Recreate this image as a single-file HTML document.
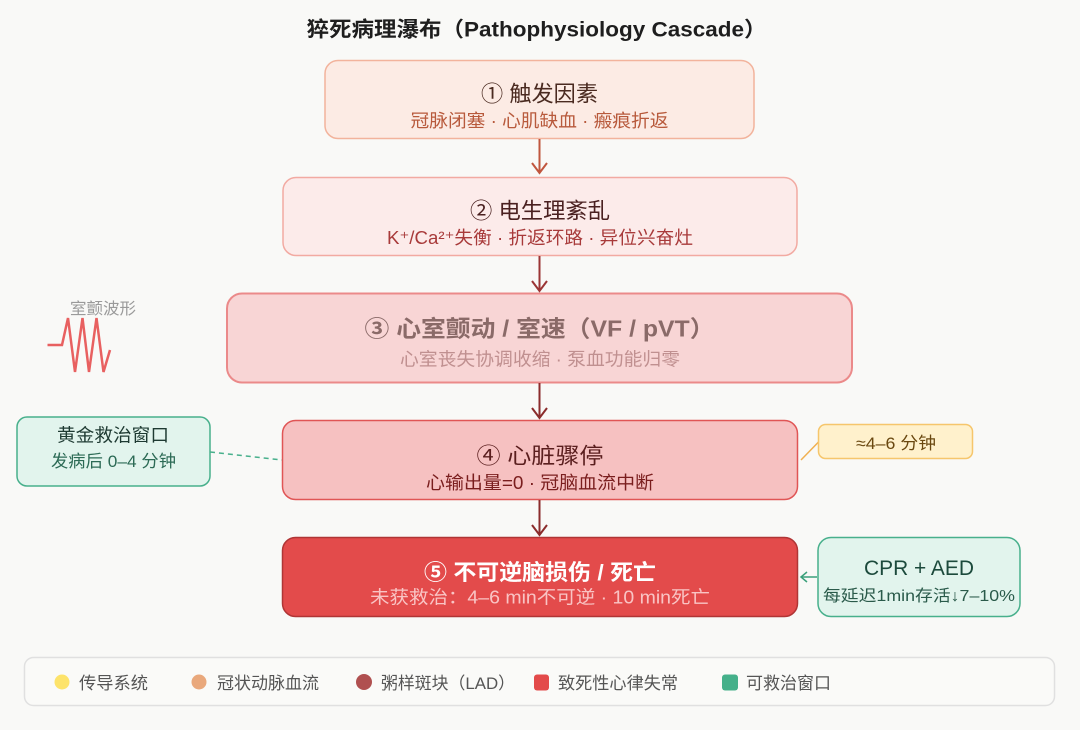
<!DOCTYPE html>
<html>
<head>
<meta charset="utf-8">
<style>
  html, body { margin: 0; padding: 0; background: #f9f9f7; }
  body { width: 1080px; height: 730px; overflow: hidden; }
  svg { display: block; }
  text { font-family: "Liberation Sans", "Noto Sans CJK SC", sans-serif; }
</style>
</head>
<body>
<svg width="1080" height="730" viewBox="0 0 1080 730" xmlns="http://www.w3.org/2000/svg">
  <rect x="0" y="0" width="1080" height="730" fill="#f9f9f7"/>

  <!-- Title -->
  <text x="536.5" y="36.5" text-anchor="middle" font-size="21" font-weight="bold" fill="#1e1e1e" textLength="460" lengthAdjust="spacingAndGlyphs">猝死病理瀑布（Pathophysiology Cascade）</text>

  <!-- Box 1 -->
  <rect x="325" y="60.5" width="429" height="78" rx="13" fill="#fcebe4" stroke="#f2b39c" stroke-width="1.5"/>
  <text x="539.5" y="101.5" text-anchor="middle" font-size="22" fill="#4a2a20" textLength="117" lengthAdjust="spacingAndGlyphs">① 触发因素</text>
  <text x="539.5" y="127" text-anchor="middle" font-size="18" fill="#b85a3c" textLength="258" lengthAdjust="spacingAndGlyphs">冠脉闭塞 · 心肌缺血 · 瘢痕折返</text>

  <!-- Arrow 1 -->
  <line x1="539.5" y1="139" x2="539.5" y2="173" stroke="#c0563e" stroke-width="2"/>
  <polyline points="532,163 539.5,173 547,163" fill="none" stroke="#c0563e" stroke-width="2"/>

  <!-- Box 2 -->
  <rect x="283" y="177.5" width="514" height="78" rx="13" fill="#fcebea" stroke="#f2aaa2" stroke-width="1.5"/>
  <text x="540" y="218.5" text-anchor="middle" font-size="22" fill="#4a2020" textLength="140" lengthAdjust="spacingAndGlyphs">② 电生理紊乱</text>
  <text x="540" y="244" text-anchor="middle" font-size="18" fill="#a83a3a" textLength="306" lengthAdjust="spacingAndGlyphs">K⁺/Ca²⁺失衡 · 折返环路 · 异位兴奋灶</text>

  <!-- Arrow 2 -->
  <line x1="539.5" y1="256" x2="539.5" y2="291" stroke="#9b3535" stroke-width="2"/>
  <polyline points="532,281 539.5,291 547,281" fill="none" stroke="#9b3535" stroke-width="2"/>

  <!-- Waveform -->
  <text x="103" y="314" text-anchor="middle" font-size="16" fill="#9a9a9a" textLength="66" lengthAdjust="spacingAndGlyphs">室颤波形</text>
  <polyline points="47.5,345 62,345 68,318 75,372 82.5,318 89,372 96.5,318 103.5,372 110,350" fill="none" stroke="#e86060" stroke-width="2.5" stroke-linejoin="miter"/>

  <!-- Box 3 -->
  <rect x="227" y="293.5" width="625" height="89" rx="15" fill="#f8d5d5" stroke="#eb8a8a" stroke-width="2"/>
  <text x="539.5" y="336.5" text-anchor="middle" font-size="23" font-weight="bold" fill="#8a6a68" textLength="350" lengthAdjust="spacingAndGlyphs">③ 心室颤动 / 室速（VF / pVT）</text>
  <text x="540" y="365.5" text-anchor="middle" font-size="18" fill="#c09090" textLength="280" lengthAdjust="spacingAndGlyphs">心室丧失协调收缩 · 泵血功能归零</text>

  <!-- Arrow 3 -->
  <line x1="539.5" y1="383" x2="539.5" y2="418" stroke="#8b2c2c" stroke-width="2"/>
  <polyline points="532,408 539.5,418 547,408" fill="none" stroke="#8b2c2c" stroke-width="2"/>

  <!-- Green left box -->
  <rect x="17" y="417" width="193" height="69" rx="10" fill="#e2f4ed" stroke="#48b08c" stroke-width="1.5"/>
  <text x="113" y="441.7" text-anchor="middle" font-size="18" fill="#1e3a32" textLength="112" lengthAdjust="spacingAndGlyphs">黄金救治窗口</text>
  <text x="113.5" y="466.8" text-anchor="middle" font-size="17" fill="#2c6a55" textLength="125" lengthAdjust="spacingAndGlyphs">发病后 0–4 分钟</text>
  <line x1="210" y1="452" x2="282" y2="460" stroke="#48b08c" stroke-width="1.5" stroke-dasharray="5,4"/>

  <!-- Box 4 -->
  <rect x="282.5" y="420.5" width="515" height="79" rx="13" fill="#f6c1c1" stroke="#e05555" stroke-width="1.5"/>
  <text x="540" y="463.5" text-anchor="middle" font-size="22" fill="#5a1e1e" textLength="127" lengthAdjust="spacingAndGlyphs">④ 心脏骤停</text>
  <text x="540" y="489" text-anchor="middle" font-size="18" fill="#7a1e1e" textLength="228" lengthAdjust="spacingAndGlyphs">心输出量=0 · 冠脑血流中断</text>

  <!-- Yellow box + connector -->
  <line x1="801" y1="460" x2="818.5" y2="442" stroke="#f0b050" stroke-width="1.5"/>
  <rect x="818.5" y="424.5" width="154" height="34" rx="7" fill="#fff1cc" stroke="#f6c66c" stroke-width="1.5"/>
  <text x="896" y="449" text-anchor="middle" font-size="17" fill="#6a4810" textLength="80" lengthAdjust="spacingAndGlyphs">≈4–6 分钟</text>

  <!-- Arrow 4 -->
  <line x1="539.5" y1="500" x2="539.5" y2="535" stroke="#8b2c2c" stroke-width="2"/>
  <polyline points="532,525 539.5,535 547,525" fill="none" stroke="#8b2c2c" stroke-width="2"/>

  <!-- Box 5 -->
  <rect x="282.5" y="537.5" width="515" height="79" rx="13" fill="#e34b4b" stroke="#b03535" stroke-width="1.5"/>
  <text x="540" y="580" text-anchor="middle" font-size="22" font-weight="bold" fill="#ffffff" textLength="232" lengthAdjust="spacingAndGlyphs">⑤ 不可逆脑损伤 / 死亡</text>
  <text x="540" y="603.5" text-anchor="middle" font-size="18" fill="#f9c4c4" textLength="340" lengthAdjust="spacingAndGlyphs">未获救治：4–6 min不可逆 · 10 min死亡</text>

  <!-- CPR box -->
  <rect x="818" y="537.5" width="202" height="79" rx="13" fill="#e2f4ed" stroke="#48b08c" stroke-width="1.5"/>
  <text x="919" y="575" text-anchor="middle" font-size="21" fill="#1c4a3c" textLength="110" lengthAdjust="spacingAndGlyphs">CPR + AED</text>
  <text x="919" y="601" text-anchor="middle" font-size="16" fill="#2a5a4a" textLength="192" lengthAdjust="spacingAndGlyphs">每延迟1min存活↓7–10%</text>
  <line x1="817" y1="577" x2="801" y2="577" stroke="#3aa07a" stroke-width="1.5"/>
  <polyline points="807,572 801,577 807,582" fill="none" stroke="#3aa07a" stroke-width="1.5"/>

  <!-- Legend -->
  <rect x="24.5" y="657.5" width="1030" height="48" rx="9" fill="#fafaf8" stroke="#e0e0e0" stroke-width="1.5"/>
  <circle cx="62" cy="682" r="7.5" fill="#fde36a"/>
  <text x="79" y="689" font-size="17" fill="#555555" textLength="69" lengthAdjust="spacingAndGlyphs">传导系统</text>
  <circle cx="199" cy="682" r="7.5" fill="#e9a87c"/>
  <text x="217" y="689" font-size="17" fill="#555555" textLength="102" lengthAdjust="spacingAndGlyphs">冠状动脉血流</text>
  <circle cx="364" cy="682" r="8" fill="#b05050"/>
  <text x="381" y="689" font-size="17" fill="#555555" textLength="134" lengthAdjust="spacingAndGlyphs">粥样斑块（LAD）</text>
  <rect x="534" y="674.5" width="15" height="16" rx="3" fill="#e34a4a"/>
  <text x="558" y="689" font-size="17" fill="#555555" textLength="120" lengthAdjust="spacingAndGlyphs">致死性心律失常</text>
  <rect x="722" y="674.5" width="16" height="16" rx="3" fill="#45b08a"/>
  <text x="746" y="689" font-size="17" fill="#555555" textLength="85" lengthAdjust="spacingAndGlyphs">可救治窗口</text>
</svg>
</body>
</html>
